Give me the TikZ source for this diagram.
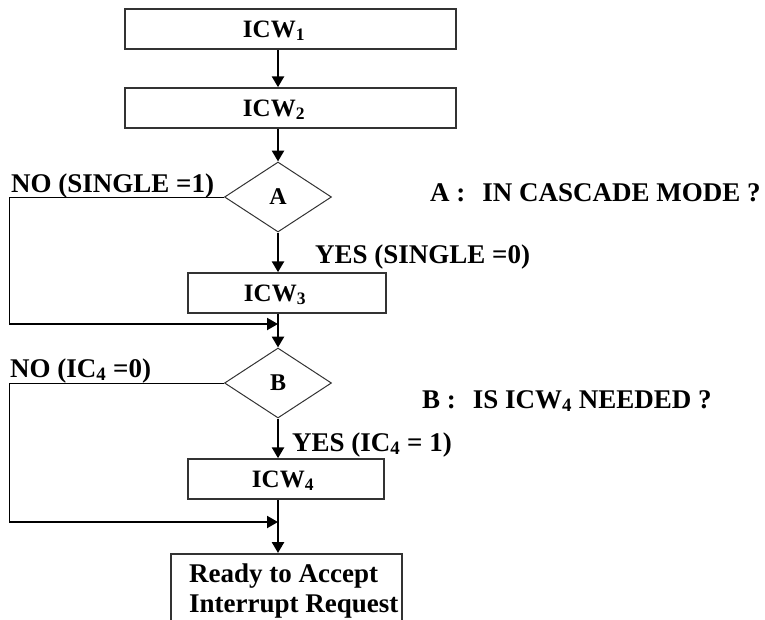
\documentclass[tikz,border=0pt]{standalone}
\usepackage{fontspec}
\setmainfont{Liberation Serif}
\usetikzlibrary{arrows.meta,shapes.geometric,positioning}

\begin{document}
\begin{tikzpicture}[x=1pt,y=-1pt,
	wordbox/.style={draw=black!80, line width=1.5pt, inner sep=0pt},
	decision/.style={diamond, draw=black!80, line width=1pt, inner sep=0pt,
		minimum width=107pt, minimum height=70pt,
		font=\fontsize{24}{26}\selectfont\bfseries},
	boxtxt/.style={font=\fontsize{25}{28}\selectfont\bfseries, inner sep=0pt, anchor=base},
	lbl/.style={font=\fontsize{27}{30}\selectfont\bfseries, inner sep=0pt, anchor=base west},
	flow/.style={-{Triangle[width=12pt,length=11pt]}, line width=2.6pt},
	mergeline/.style={-{Triangle[width=12pt,length=11pt]}, line width=2pt},
	noline/.style={line width=1pt}]

			\useasboundingbox (0,0) rectangle (765,619);
			\clip (0,0) rectangle (765,619);

			% main line and the left return line
			\coordinate (spine) at (278,0);
			\coordinate (edge)  at (9,0);
			\coordinate (j1)    at (278,324);
			\coordinate (j2)    at (278,522);

			% ICW1
			\node[wordbox, minimum width=331pt, minimum height=40pt] (icw1) at (290.5,29) {};
			\node[boxtxt] (t1) at (274,37) {ICW\textsubscript{1}};

			% ICW2
			\node[wordbox, minimum width=331pt, minimum height=40pt] (icw2) at (290.5,108) {};
			\node[boxtxt] (t2) at (274,116) {ICW\textsubscript{2}};

			% decision A
			\node[decision] (da) at (278,197) {A};
			\node[lbl] (noa)  at (11,192)  {NO (SINGLE =1)};
			\node[lbl] (yesa) at (315,263) {YES (SINGLE =0)};
			\node[lbl] (qa)   at (430,201) {A :\hspace{17pt}IN CASCADE MODE ?};

			% ICW3
			\node[wordbox, minimum width=198pt, minimum height=40pt] (icw3) at (287,293) {};
			\node[boxtxt] (t3) at (275,301) {ICW\textsubscript{3}};

			% decision B
			\node[decision] (db) at (278,383) {B};
			\node[lbl] (nob)  at (10,377)  {NO (IC\textsubscript{4} =0)};
			\node[lbl] (yesb) at (292,451) {YES (IC\textsubscript{4} = 1)};
			\node[lbl] (qb)   at (422,408) {B :\hspace{17pt}IS ICW\textsubscript{4} NEEDED ?};

			% ICW4
			\node[wordbox, minimum width=196pt, minimum height=40pt] (icw4) at (286,479) {};
			\node[boxtxt] (t4) at (283,487) {ICW\textsubscript{4}};

			% last box, cut at the bottom
			\node[wordbox, minimum width=231pt, minimum height=80pt, anchor=north] (ready) at (286.5,553) {};
			\node[lbl] (r1) at (189,582) {Ready to Accept};
			\node[lbl] (r2) at (189,612) {Interrupt Request};

			% arrows down the middle
			\draw[flow] (icw1.south -| spine) -- (icw2.north -| spine);
			\draw[flow] (icw2.south -| spine) -- (da.north);
			\draw[flow] (da.south) -- (icw3.north -| spine);
			\draw[flow] (icw3.south -| spine) -- (db.north);
			\draw[flow] (db.south) -- (icw4.north -| spine);
			\draw[flow] (icw4.south -| spine) -- (ready.north -| spine);

			% NO branches going round
			\draw[noline] (da.west) -- (da.west -| edge) -- (j1 -| edge);
			\draw[mergeline] (j1 -| edge) -- (j1);
			\draw[noline] (db.west) -- (db.west -| edge) -- (j2 -| edge);
			\draw[mergeline] (j2 -| edge) -- (j2);
		\end{tikzpicture}
\end{document}
